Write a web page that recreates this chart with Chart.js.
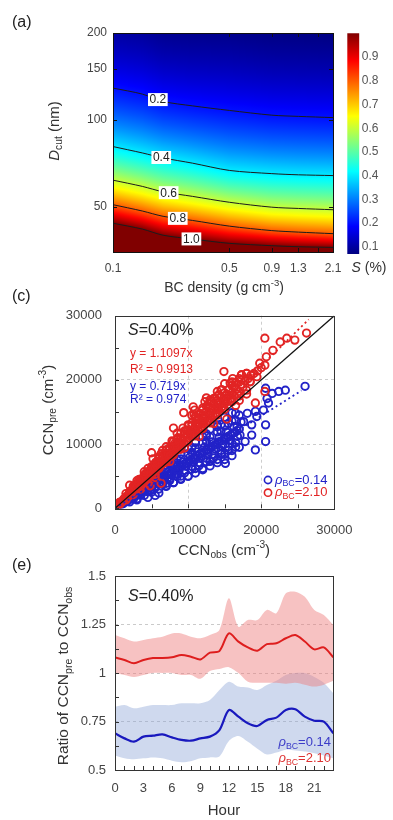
<!DOCTYPE html>
<html>
<head>
<meta charset="utf-8">
<script src="https://cdn.jsdelivr.net/npm/chart.js@4.4.1/dist/chart.umd.min.js"></script>
<style>
  html, body { margin: 0; padding: 0; background: #fff; }
  #fig { position: relative; width: 393px; height: 820px; overflow: hidden; }
  canvas { position: absolute; left: 0; }
</style>
</head>
<body>
<div id="fig">
  <canvas id="panelA" width="393" height="300" style="top:0"></canvas>
  <canvas id="cbar" width="63" height="300" style="top:0;left:330px"></canvas>
  <canvas id="panelC" width="393" height="277" style="top:285px"></canvas>
  <canvas id="panelE" width="393" height="270" style="top:550px"></canvas>
</div>
<script>
'use strict';

// ---- (a) critical supersaturation contours vs BC density and D_cut ----
const densityPts = [0.1, 0.15, 0.2, 0.3, 0.5, 0.9, 1.3, 2.1];
const sLevels = [0.2, 0.4, 0.6, 0.8, 1.0];
const sLevelLabels = ['0.2', '0.4', '0.6', '0.8', '1.0'];
const dcutS02 = [129, 123, 116, 112, 108, 104, 103, 102];
const dcutS04 = [81, 77, 74, 71, 67, 65.3, 64.7, 64.3];
const dcutS06 = [62, 59, 56.5, 54.5, 52, 50, 49.5, 49];
const dcutS08 = [51, 48.5, 46.5, 45, 43, 41.5, 41, 40.5];
const dcutS10 = [44, 42, 40, 38.8, 37.5, 36.8, 36.5, 36.3];
const contourLabelRho = [0.186, 0.195, 0.216, 0.245, 0.296];
const densityTicks = [0.1, 0.5, 0.9, 1.3, 1.7, 2.1];
const densityTickLabels = ['0.1', '0.5', '0.9', '1.3', '', '2.1'];
const dcutTicks = [50, 100, 150, 200];
const sTicks = [0.1, 0.2, 0.3, 0.4, 0.5, 0.6, 0.7, 0.8, 0.9];
const sRange = [0.07, 1.0];

// ---- (c) predicted vs observed CCN, S = 0.40% ----
const redPts = [
  [1000,1050],[2000,2050],[3000,3100],[4000,4150],[5000,5100],[6000,6200],[7000,7200],[8000,8300],[9000,9200],
  [10000,10400],[11000,11300],[12000,12400],[13000,13300],[14000,14500],[15000,15400],[16000,16600],[17000,17500],[18000,18400],
  [400,500],[600,600],[800,1000],[1000,1050],[1200,1450],[1400,1500],[1600,1900],[1800,1850],[2000,2400],[2200,2350],
  [2400,2800],[2600,2700],[2800,3300],[3000,3200],[3200,3700],[3400,3600],[3600,4200],[3800,4000],[4000,4600],[4200,4400],
  [4400,5100],[4600,4900],[4800,5500],[5000,5300],[5200,5900],[5400,5700],[5600,6500],[5800,6200],[6000,6900],[6200,6600],
  [6400,7300],[6600,7000],[6800,7800],[7000,7400],[7200,8200],[7400,7900],[7600,8700],[7800,8300],[8000,9100],[8200,8800],
  [8400,9600],[8600,9200],[8800,10100],[9000,9600],[9200,10500],[9400,10100],[9600,11000],[9800,10500],[10000,11400],[10200,10900],
  [10400,11800],[10600,11300],[10800,12300],[11000,11800],[11200,12700],[11400,12200],[11600,13100],[11800,12700],[12000,13600],[12200,13100],
  [12400,14000],[12600,13600],[12800,14500],[13000,14000],[13200,14900],[13400,14500],[13600,15400],[13800,14900],[14000,15800],[14200,15300],
  [14400,16200],[14600,15800],[14800,16700],[15000,16300],[15200,17100],[15400,16700],[15600,17600],[15800,17100],[16000,18000],[16300,17600],
  [16600,18600],[16900,18200],[17200,19300],[17500,18900],[17800,19800],[18200,20200],[18600,20700],[19000,21000],[19500,21400],[20000,21900],[20500,22300],
  [3000,3700],[3500,4300],[4000,4900],[4500,5500],[5000,6100],[5500,6800],[6000,7300],[6500,8000],[7000,8500],[7500,9200],
  [8000,9700],[8500,10300],[9000,10900],[9500,11600],[10000,12100],[10500,12800],[11000,13300],[11500,14000],[12000,14500],[12500,15100],
  [13000,15600],[13500,16300],[14000,16800],[14500,17400],[15000,18000],[15500,18500],[16000,19100],[16500,19600],[17000,20200],
  [4200,5400],[5600,7200],[7100,9100],[8600,11000],[10100,12900],[11600,14800],[13100,16700],[14600,18500],[16100,20200],
  [750,800],[1750,1850],[2750,2900],[3750,3950],[4750,5050],[5750,6100],[6750,7150],[7750,8200],[8750,9300],[9750,10350],
  [10750,11400],[11750,12450],[12750,13500],[13750,14600],[14750,15600],[15750,16700],[16750,17800],
  [1250,1450],[2250,2600],[3250,3800],[4250,4950],[5250,6100],[6250,7250],[7250,8400],[8250,9600],[9250,10700],[10250,11900],
  [11250,13000],[12250,14200],[13250,15400],[14250,16500],[15250,17700],[16250,18900],[17250,20000],
  [2250,2800],[3750,4650],[5250,6500],[6750,8400],[8250,10200],[9750,12100],[11250,13900],[12750,15800],[14250,17700],[15750,19500],
  [2000,2600],[3000,3900],[4000,5200],[5000,6500],[6000,7800],[7000,9100],[8000,10400],[9000,11700],[10000,13000],[11000,14300],
  [12000,15600],[13000,16900],[14000,18200],[15000,19400],
  [2500,3150],[3500,4450],[4500,5700],[5500,7000],[6500,8250],[7500,9500],[8500,10800],[9500,12050],[10500,13300],[11500,14600],
  [12500,15900],[13500,17100],[14500,18400],
  [2500,3450],[4500,6200],[6500,9000],[8500,11700],[10500,14500],[12500,17200],[3300,4500],[6300,8500],[9300,12500],[12300,16600],
  [7800,10500],[10800,14600],[1500,1300],[2500,2150],[3500,3000],[4500,3900],[5500,4800],
  [1500,2300],[2000,3600],[2600,3500],[3000,4300],[4000,5700],[5000,8650],[5200,7700],[6000,8000],[7000,9600],[8000,12500],
  [9400,14900],[10700,15800],[10900,15300],[11000,14000],[12000,15300],[13000,16500],[14000,17500],[14900,21300],[16000,19700],[17300,20800],
  [18000,21000],[18500,19700],[19400,20500],[19800,22600],[20700,23600],[21600,24600],[20500,26500],[22600,25900],[23500,26500],[24600,26200],
  [26200,27300],[17300,20760],[18470,19720],[18010,21030],[3500,3400],[5500,5300],[7500,7300],[9500,9400],[11500,11200],[13500,13200],
  [15300,13900],[16500,16000],[19200,16400],[20500,18200],[17000,16800],[18000,17800],[6300,3900],[4800,3500],[200,300],[300,200],[600,900]
];
const bluePts = [
  [500,350],[800,600],[1100,700],[1400,1000],[1700,1200],[2000,1400],[2300,1700],[2600,1800],[2900,2100],[3200,2300],
  [3500,2500],[3800,2800],[4100,2900],[4400,3200],[4700,3400],[5000,3600],[5300,3900],[5600,4000],[5900,4300],[6200,4500],
  [6500,4700],[6800,4900],[7100,5200],[7400,5300],[7700,5600],[8000,5800],[8300,6000],[8600,6200],[8900,6500],[9200,6600],
  [9500,6900],[9800,7100],[10100,7300],[10400,7500],[10700,7800],[11000,7900],[11300,8200],[11600,8400],[11900,8600],[12200,8800],
  [12500,9100],[12800,9200],[13100,9500],[13400,9700],[13700,9900],[14000,10100],[14300,10400],[14600,10500],[14900,10800],[15200,11000],
  [15500,11200],[15800,11400],[16100,11700],[16400,11800],[16700,12100],[17000,12300],
  [3000,2600],[4000,3400],[5000,4300],[6000,5100],[7000,6000],[8000,6800],[9000,7700],[10000,8500],[11000,9400],[12000,10200],
  [13000,11100],[14000,11900],[15000,12800],[16000,13600],[17000,14500],
  [3500,2100],[4500,2800],[5500,3400],[6500,4000],[7500,4600],[8500,5300],[9500,5900],[10500,6500],[11500,7100],[12500,7800],
  [13500,8400],[14500,9000],[15500,9600],[16500,10200],
  [3000,2850],[5000,4700],[7000,6700],[9000,8500],[11000,10400],[13000,12300],[15000,14200],
  [750,500],[1750,1150],[2750,1850],[3750,2500],[4750,3200],[5750,3850],[6750,4500],[7750,5200],[8750,5850],[9750,6550],
  [10750,7200],[11750,7900],[12750,8550],[13750,9200],[14750,9900],[15750,10550],[16750,11200],
  [1250,1000],[2250,1750],[3250,2550],[4250,3300],[5250,4100],[6250,4900],[7250,5650],[8250,6450],[9250,7200],[10250,8000],
  [11250,8800],[12250,9550],[13250,10350],[14250,11100],[15250,11900],[16250,12700],[17250,13450],
  [2500,2250],[4000,3600],[5500,4950],[7500,6750],[8500,7650],[10500,9450],[12500,11250],[14500,13050],[16500,14850],
  [2000,1000],[3000,1500],[4000,2000],[5000,2500],[6000,3000],[7000,3500],[8000,4000],[9000,4500],[10000,5000],[11000,5500],
  [12000,6000],[13000,6600],[14000,7100],[15000,7600],[16000,8200],
  [2500,1450],[3500,2050],[4500,2600],[5500,3200],[6500,3750],[7500,4350],[8500,4950],[9500,5500],[10500,6100],[11500,6650],
  [12500,7250],[13500,7850],[14500,8400],[15500,9000],[16500,9550],
  [2000,1650],[4500,3750],[6500,5400],[8500,7050],[10500,8700],[12500,10400],[14500,12000],[16500,13700],
  [4000,3700],[6000,5600],[8000,7450],[10000,9300],[12000,11150],[14000,13000],[16000,14900],
  [5000,2800],[7000,3900],[9000,5000],[11000,6200],[13000,7300],[15000,8400],[17000,9500],
  [200,100],[300,300],[3000,1300],[4500,1700],[5500,2000],[6000,2400],[7000,3400],[8000,4000],[9000,4600],[10000,5000],
  [26000,19000],[23300,18400],[22400,18200],[21500,17900],[20800,17100],[20600,18700],[21000,16400],[20300,15300],[19200,15100],[19400,14300],
  [20600,13000],[20600,10400],[19200,9100],[17800,10400],[18700,11400],[18100,14800],[17600,13500],[15100,7000],[14600,8600],[16000,10100],
  [16700,12700],[17100,11400],[18700,13000],[12000,6200],[13000,7400],[14000,7600],[16000,9000],[15500,13200],[14000,12700],[12500,11600],[11000,10200]
];
const redSlope = 1.1097, redR2 = 0.9913, redFitEnd = 26500;
const blueSlope = 0.719, blueR2 = 0.974, blueFitEnd = 25500;
const ccnTicks = [0, 5000, 10000, 15000, 20000, 25000, 30000];

// ---- (e) diurnal ratio of predicted to observed CCN ----
const hours = [0,1,2,3,4,5,6,7,8,9,10,11,12,13,14,15,16,17,18,19,20,21,22,23];
const redRatio = [1.08,1.067,1.05,1.067,1.077,1.077,1.081,1.093,1.084,1.07,1.105,1.113,1.204,1.162,1.132,1.115,1.149,1.153,1.179,1.196,1.162,1.122,1.132,1.081];
const redUpper = [1.196,1.179,1.162,1.17,1.179,1.187,1.204,1.204,1.187,1.179,1.196,1.222,1.385,1.239,1.273,1.273,1.325,1.308,1.411,1.419,1.393,1.325,1.299,1.247];
const redLower = [1.0,0.99,0.98,0.99,1.0,1.0,1.0,0.99,0.99,0.97,1.01,1.02,1.03,1.0,0.955,0.95,0.95,0.95,0.945,0.95,0.94,0.93,0.94,0.96];
const blueRatio = [0.689,0.663,0.646,0.672,0.677,0.684,0.668,0.655,0.651,0.663,0.672,0.706,0.809,0.775,0.741,0.727,0.758,0.77,0.809,0.813,0.775,0.754,0.749,0.689];
const blueUpper = [0.826,0.835,0.818,0.826,0.835,0.835,0.835,0.844,0.844,0.844,0.861,0.912,0.955,0.93,0.925,0.912,0.938,0.96,0.99,1.0,1.0,0.98,0.95,0.895];
const blueLower = [0.575,0.56,0.555,0.56,0.565,0.56,0.548,0.54,0.545,0.56,0.565,0.57,0.65,0.675,0.645,0.61,0.58,0.59,0.605,0.6,0.595,0.586,0.575,0.56];
const ratioTicks = [0.5, 0.625, 0.75, 0.875, 1, 1.125, 1.25, 1.375, 1.5];
const ratioTickLabels = ['0.5', '', '0.75', '', '1', '', '1.25', '', '1.5'];

const FONT = "'Liberation Sans', Arial, Helvetica, sans-serif";
Chart.defaults.font.family = FONT;
Chart.defaults.color = '#444';
Chart.defaults.animation = false;
Chart.defaults.plugins.legend.display = false;
Chart.defaults.plugins.tooltip.enabled = false;

const RED = 'rgb(226,36,36)';
const BLUE = 'rgb(34,34,200)';

function jet(f) {
  f = Math.min(1, Math.max(0, f));
  const c = v => Math.round(255 * Math.min(1, Math.max(0, v)));
  return 'rgb(' + c(1.5 - Math.abs(4 * f - 3)) + ',' + c(1.5 - Math.abs(4 * f - 2)) + ',' + c(1.5 - Math.abs(4 * f - 1)) + ')';
}
function sColor(s) {
  return jet((s - sRange[0]) / (sRange[1] - sRange[0]));
}

// mixed-style text: runs of {t, i (italic), sub, sup, color}
function runFont(size, r) {
  const s = (r.sub || r.sup) ? size * 0.68 : size;
  return (r.i ? 'italic ' : '') + s.toFixed(1) + 'px ' + FONT;
}
function drawRich(ctx, runs, x, y, o) {
  const size = o.size || 14;
  ctx.save();
  ctx.translate(x, y);
  if (o.rotate) ctx.rotate(o.rotate);
  let w = 0;
  runs.forEach(r => { ctx.font = runFont(size, r); w += ctx.measureText(r.t).width; });
  let cx = o.align === 'center' ? -w / 2 : o.align === 'right' ? -w : 0;
  ctx.textBaseline = 'middle';
  ctx.textAlign = 'left';
  runs.forEach(r => {
    ctx.font = runFont(size, r);
    ctx.fillStyle = r.color || o.color || '#222';
    const dy = r.sub ? size * 0.3 : r.sup ? -size * 0.36 : 0;
    ctx.fillText(r.t, cx, dy);
    cx += ctx.measureText(r.t).width;
  });
  ctx.restore();
}

// box around the plot area with short inward ticks
function framePlugin(sides, color, len) {
  return {
    id: 'frame',
    afterDatasetsDraw(chart) {
      const {ctx, chartArea: a, scales} = chart;
      ctx.save();
      ctx.strokeStyle = color;
      ctx.lineWidth = 1;
      ctx.beginPath();
      sides.forEach(side => {
        const sc = (side === 'left' || side === 'right') ? scales.y : scales.x;
        sc.ticks.forEach(t => {
          const p = Math.round(sc.getPixelForValue(t.value)) + 0.5;
          if (side === 'left') { ctx.moveTo(a.left, p); ctx.lineTo(a.left + len, p); }
          if (side === 'right') { ctx.moveTo(a.right, p); ctx.lineTo(a.right - len, p); }
          if (side === 'bottom') { ctx.moveTo(p, a.bottom); ctx.lineTo(p, a.bottom - len); }
          if (side === 'top') { ctx.moveTo(p, a.top); ctx.lineTo(p, a.top + len); }
        });
      });
      ctx.stroke();
      ctx.strokeRect(Math.round(a.left) + 0.5, Math.round(a.top) + 0.5, Math.round(a.right - a.left), Math.round(a.bottom - a.top));
      ctx.restore();
    }
  };
}

function textPlugin(items) {
  return {
    id: 'texts',
    afterDraw(chart) {
      items.forEach(it => drawRich(chart.ctx, it.runs, it.x, it.y, it));
    }
  };
}

// ---------------- panel (a) ----------------
const contourRows = [dcutS02, dcutS04, dcutS06, dcutS08, dcutS10];

function contourPixels(chart) {
  return chart.data.datasets.map((d, i) => chart.getDatasetMeta(i).data.map(p => [p.x, p.y]));
}
function yOnContour(pts, px) {
  for (let k = 1; k < pts.length; k++) {
    if (px <= pts[k][0] || k === pts.length - 1) {
      const [x0, y0] = pts[k - 1];
      const [x1, y1] = pts[k];
      return y0 + (y1 - y0) * (px - x0) / (x1 - x0);
    }
  }
}

// colour field between the contour lines, one gradient per pixel column
const fieldPlugin = {
  id: 'field',
  beforeDatasetsDraw(chart) {
    const {ctx, chartArea: a} = chart;
    const rows = contourPixels(chart);
    const h = a.bottom - a.top;
    const n = 10;
    ctx.save();
    for (let px = Math.floor(a.left); px < Math.ceil(a.right); px++) {
      const ys = rows.map(r => yOnContour(r, px + 0.5));
      const g = ctx.createLinearGradient(0, a.top, 0, a.bottom);
      const stop = (yy, s) => {
        const o = (yy - a.top) / h;
        if (o >= 0 && o <= 1) g.addColorStop(o, sColor(s));
      };
      const sTop = sLevels[0] * Math.pow(sLevels[0] / sLevels[1], (ys[0] - a.top) / (ys[1] - ys[0]));
      for (let k = 0; k <= n; k++) {
        stop(a.top + (ys[0] - a.top) * k / n, sTop * Math.pow(sLevels[0] / sTop, k / n));
      }
      for (let i = 0; i < ys.length - 1; i++) {
        for (let k = 1; k <= n; k++) {
          stop(ys[i] + (ys[i + 1] - ys[i]) * k / n, sLevels[i] * Math.pow(sLevels[i + 1] / sLevels[i], k / n));
        }
      }
      stop(a.bottom, 2);
      ctx.fillStyle = g;
      ctx.fillRect(px, a.top, 1, h);
    }
    ctx.restore();
  }
};

const contourLabelPlugin = {
  id: 'contourLabels',
  afterDatasetsDraw(chart) {
    const {ctx, scales: {x}} = chart;
    const rows = contourPixels(chart);
    ctx.save();
    ctx.font = '12px ' + FONT;
    ctx.textAlign = 'center';
    ctx.textBaseline = 'middle';
    sLevelLabels.forEach((lab, i) => {
      const px = x.getPixelForValue(contourLabelRho[i]);
      const py = yOnContour(rows[i], px);
      const w = ctx.measureText(lab).width + 3;
      ctx.fillStyle = '#fff';
      ctx.fillRect(px - w / 2, py - 6.5, w, 13);
      ctx.fillStyle = '#222';
      ctx.fillText(lab, px, py + 0.5);
    });
    ctx.restore();
  }
};

new Chart(document.getElementById('panelA'), {
  type: 'line',
  data: {
    datasets: contourRows.map((row, i) => ({
      label: 'S = ' + sLevelLabels[i],
      data: densityPts.map((r, j) => ({x: r, y: row[j]})),
      borderColor: '#1c1c1c',
      borderWidth: 1,
      pointRadius: 0,
      tension: 0.3,
      fill: false
    }))
  },
  options: {
    responsive: false,
    layout: {padding: {left: 63, right: 60, top: 33, bottom: 18}},
    scales: {
      x: {
        type: 'logarithmic', min: 0.1, max: 2.1,
        afterBuildTicks: s => { s.ticks = densityTicks.map(v => ({value: v})); },
        afterFit: s => { s.height = 30; },
        grid: {display: false, drawTicks: false},
        border: {display: false},
        ticks: {font: {size: 12}, padding: 9, maxRotation: 0, autoSkip: false, callback: (v, i) => densityTickLabels[i]}
      },
      y: {
        type: 'logarithmic', min: 35, max: 200,
        afterBuildTicks: s => { s.ticks = dcutTicks.map(v => ({value: v})); },
        afterFit: s => { s.width = 50; },
        grid: {display: false, drawTicks: false},
        border: {display: false},
        ticks: {font: {size: 12}, padding: 6, autoSkip: false, callback: v => String(v)}
      }
    }
  },
  plugins: [
    fieldPlugin,
    contourLabelPlugin,
    framePlugin(['left', 'right', 'top', 'bottom'], '#111', 4),
    textPlugin([
      {runs: [{t: '(a)'}], x: 12, y: 23, size: 16},
      {runs: [{t: 'D', i: true}, {t: 'cut', sub: true}, {t: ' (nm)'}], x: 55, y: 131, size: 15, align: 'center', rotate: -Math.PI / 2, color: '#333'},
      {runs: [{t: 'BC density (g cm'}, {t: '-3', sup: true}, {t: ')'}], x: 224, y: 288, size: 14, align: 'center', color: '#333'},
      {runs: [{t: 'S', i: true}, {t: ' (%)'}], x: 369, y: 268, size: 14, align: 'center', color: '#333'}
    ])
  ]
});

// colour bar for S (%)
new Chart(document.getElementById('cbar'), {
  type: 'bar',
  data: {
    labels: ['S'],
    datasets: [{
      data: [sRange],
      backgroundColor: c => {
        const a = c.chart.chartArea;
        if (!a) return 'transparent';
        const g = c.chart.ctx.createLinearGradient(0, a.bottom, 0, a.top);
        [0, 0.125, 0.375, 0.625, 0.875, 1].forEach(f => g.addColorStop(f, jet(f)));
        return g;
      },
      borderWidth: 0,
      barPercentage: 1,
      categoryPercentage: 1
    }]
  },
  options: {
    responsive: false,
    layout: {padding: {left: 17.3, right: 0, top: 33.3, bottom: 46}},
    scales: {
      x: {display: false},
      y: {
        position: 'right', min: sRange[0], max: sRange[1],
        afterBuildTicks: s => { s.ticks = sTicks.map(v => ({value: v})); },
        afterFit: s => { s.width = 33.7; },
        grid: {display: false, drawTicks: false},
        border: {display: false},
        ticks: {font: {size: 12}, color: '#555', padding: 2.5, autoSkip: false, callback: v => v.toFixed(1)}
      }
    }
  }
});

// ---------------- panel (c) ----------------
const ccnGrid = c => (c.tick && (c.tick.value === 10000 || c.tick.value === 20000)) ? '#cdcdcd' : 'rgba(0,0,0,0)';
const ccnAxis = (pad, fit) => ({
  type: 'linear', min: 0, max: 30000,
  afterBuildTicks: s => { s.ticks = ccnTicks.map(v => ({value: v})); },
  afterFit: fit,
  grid: {color: ccnGrid, lineWidth: 1, drawTicks: false},
  border: {display: false, dash: [3, 3]},
  ticks: {font: {size: 13}, padding: pad, maxRotation: 0, autoSkip: false, callback: v => (v % 10000 === 0 ? String(v) : '')}
});

new Chart(document.getElementById('panelC'), {
  type: 'scatter',
  data: {
    datasets: [
      {label: 'rhoBC = 0.14', data: bluePts.map(p => ({x: p[0], y: p[1]})), borderColor: BLUE, backgroundColor: 'rgba(0,0,0,0)', borderWidth: 1.9, pointRadius: 3.7, order: 4},
      {label: 'rhoBC = 2.10', data: redPts.map(p => ({x: p[0], y: p[1]})), borderColor: RED, backgroundColor: 'rgba(0,0,0,0)', borderWidth: 1.9, pointRadius: 3.7, order: 3},
      {label: 'fit 0.14', data: [{x: 0, y: 0}, {x: blueFitEnd, y: blueSlope * blueFitEnd}], showLine: true, borderColor: BLUE, borderDash: [2, 3], borderWidth: 1.8, pointRadius: 0, order: 2},
      {label: 'fit 2.10', data: [{x: 0, y: 0}, {x: redFitEnd, y: redSlope * redFitEnd}], showLine: true, borderColor: RED, borderDash: [2, 3], borderWidth: 1.8, pointRadius: 0, order: 2},
      {label: '1:1', data: [{x: 0, y: 0}, {x: 30000, y: 30000}], showLine: true, borderColor: '#111', borderWidth: 1.3, pointRadius: 0, order: 1}
    ]
  },
  options: {
    responsive: false,
    layout: {padding: {left: 55, right: 58.7, top: 30.7, bottom: 23.7}},
    scales: {
      x: ccnAxis(14, s => { s.height = 30; }),
      y: ccnAxis(13, s => { s.width = 60; })
    }
  },
  plugins: [
    framePlugin(['left', 'bottom'], '#333', 4),
    {
      id: 'ccnLegend',
      afterDraw(chart) {
        const ctx = chart.ctx;
        [[BLUE, 195], [RED, 207.7]].forEach(([col, y]) => {
          ctx.save();
          ctx.strokeStyle = col;
          ctx.lineWidth = 1.6;
          ctx.beginPath();
          ctx.arc(268, y, 3.6, 0, Math.PI * 2);
          ctx.stroke();
          ctx.restore();
        });
      }
    },
    textPlugin([
      {runs: [{t: '(c)'}], x: 12, y: 12, size: 16},
      {runs: [{t: 'S', i: true}, {t: '=0.40%'}], x: 128, y: 46, size: 16, color: '#222'},
      {runs: [{t: 'y = ' + redSlope.toFixed(4) + 'x'}], x: 130, y: 68.3, size: 12, color: RED},
      {runs: [{t: 'R² = ' + redR2.toFixed(4)}], x: 130, y: 84.3, size: 12, color: RED},
      {runs: [{t: 'y = ' + blueSlope.toFixed(3) + 'x'}], x: 130, y: 101.7, size: 12, color: BLUE},
      {runs: [{t: 'R² = ' + blueR2.toFixed(3)}], x: 130, y: 115, size: 12, color: BLUE},
      {runs: [{t: 'ρ', i: true}, {t: 'BC', sub: true}, {t: '=0.14'}], x: 275, y: 195, size: 13, color: BLUE},
      {runs: [{t: 'ρ', i: true}, {t: 'BC', sub: true}, {t: '=2.10'}], x: 275, y: 207.7, size: 13, color: RED},
      {runs: [{t: 'CCN'}, {t: 'pre', sub: true}, {t: ' (cm'}, {t: '-3', sup: true}, {t: ')'}], x: 49, y: 125, size: 15, align: 'center', rotate: -Math.PI / 2, color: '#333'},
      {runs: [{t: 'CCN'}, {t: 'obs', sub: true}, {t: ' (cm'}, {t: '-3', sup: true}, {t: ')'}], x: 224, y: 266, size: 15, align: 'center', color: '#333'}
    ])
  ]
});

// ---------------- panel (e) ----------------
const xy = arr => hours.map((h, i) => ({x: h, y: arr[i]}));
const bandStyle = {borderWidth: 0, pointRadius: 0, tension: 0.3};

new Chart(document.getElementById('panelE'), {
  type: 'line',
  data: {
    datasets: [
      Object.assign({label: 'blue upper', data: xy(blueUpper), fill: '+1', backgroundColor: 'rgba(140,165,215,0.42)', order: 5}, bandStyle),
      Object.assign({label: 'blue lower', data: xy(blueLower), fill: false, order: 5}, bandStyle),
      Object.assign({label: 'red upper', data: xy(redUpper), fill: '+1', backgroundColor: 'rgba(238,120,120,0.45)', order: 4}, bandStyle),
      Object.assign({label: 'red lower', data: xy(redLower), fill: false, order: 4}, bandStyle),
      {label: 'rhoBC = 0.14', data: xy(blueRatio), borderColor: 'rgb(25,25,190)', borderWidth: 2.2, pointRadius: 0, tension: 0.3, fill: false, order: 2},
      {label: 'rhoBC = 2.10', data: xy(redRatio), borderColor: 'rgb(222,30,30)', borderWidth: 2, pointRadius: 0, tension: 0.3, fill: false, order: 1}
    ]
  },
  options: {
    responsive: false,
    layout: {padding: {left: 60, right: 59.7, top: 26, bottom: 20}},
    scales: {
      x: {
        type: 'linear', min: 0, max: 23,
        afterBuildTicks: s => { s.ticks = hours.map(v => ({value: v})); },
        afterFit: s => { s.height = 30; },
        grid: {display: false, drawTicks: false},
        border: {display: false},
        ticks: {font: {size: 13}, padding: 10.5, maxRotation: 0, autoSkip: false, callback: v => (v % 3 === 0 ? String(v) : '')}
      },
      y: {
        type: 'linear', min: 0.5, max: 1.5,
        afterBuildTicks: s => { s.ticks = ratioTicks.map(v => ({value: v})); },
        afterFit: s => { s.width = 55; },
        grid: {color: c => (c.tick && [0.75, 1, 1.25].includes(c.tick.value)) ? '#cacaca' : 'rgba(0,0,0,0)', drawTicks: false},
        border: {display: false, dash: [3, 3]},
        ticks: {font: {size: 13}, padding: 9, autoSkip: false, callback: (v, i) => ratioTickLabels[i]}
      }
    }
  },
  plugins: [
    framePlugin(['left', 'bottom'], '#333', 4),
    textPlugin([
      {runs: [{t: '(e)'}], x: 12, y: 15.7, size: 16},
      {runs: [{t: 'S', i: true}, {t: '=0.40%'}], x: 128, y: 46.7, size: 16, color: '#222'},
      {runs: [{t: 'ρ', i: true}, {t: 'BC', sub: true}, {t: '=0.14'}], x: 331, y: 192.7, size: 13, align: 'right', color: 'rgb(60,60,200)'},
      {runs: [{t: 'ρ', i: true}, {t: 'BC', sub: true}, {t: '=2.10'}], x: 331, y: 208.3, size: 13, align: 'right', color: 'rgb(222,50,50)'},
      {runs: [{t: 'Ratio of CCN'}, {t: 'pre', sub: true}, {t: ' to CCN'}, {t: 'obs', sub: true}], x: 64, y: 126, size: 15.5, align: 'center', rotate: -Math.PI / 2, color: '#333'},
      {runs: [{t: 'Hour'}], x: 224, y: 261, size: 15, align: 'center', color: '#333'}
    ])
  ]
});
</script>
</body>
</html>
